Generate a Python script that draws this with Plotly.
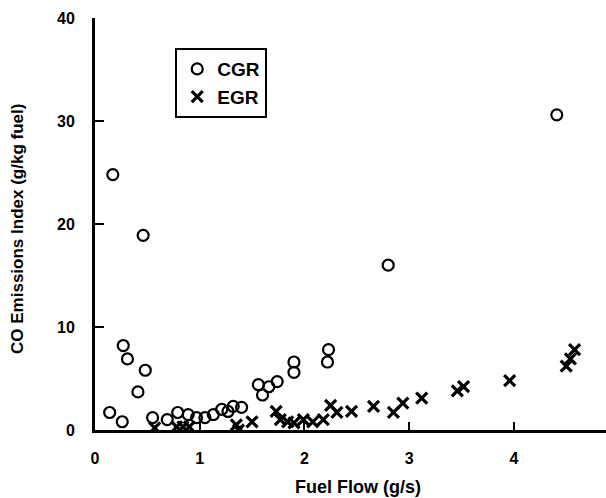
import plotly.graph_objects as go

cgr_x = [0.14, 0.17, 0.26, 0.27, 0.31, 0.41, 0.46, 0.48, 0.55, 0.69, 0.79, 0.89,
         0.97, 1.05, 1.13, 1.21, 1.27, 1.32, 1.40, 1.56, 1.60, 1.66, 1.74, 1.90,
         1.90, 2.23, 2.22, 2.80, 4.41]
cgr_y = [1.7, 24.8, 0.8, 8.2, 6.9, 3.7, 18.9, 5.8, 1.2, 1.0, 1.7, 1.5,
         1.2, 1.2, 1.5, 2.0, 1.8, 2.3, 2.2, 4.4, 3.4, 4.2, 4.7, 6.6,
         5.6, 7.8, 6.6, 16.0, 30.6]

egr_x = [0.57, 0.78, 0.84, 0.90, 1.35, 1.37, 1.50, 1.73, 1.77, 1.84, 1.90, 1.99,
         2.08, 2.18, 2.25, 2.31, 2.45, 2.66, 2.85, 2.94, 3.12, 3.46, 3.52, 3.96,
         4.50, 4.54, 4.58]
egr_y = [0.2, 0.3, 0.3, 0.3, 0.5, 0.0, 0.8, 1.8, 1.0, 0.8, 0.7, 1.0,
         0.8, 1.0, 2.4, 1.7, 1.8, 2.3, 1.7, 2.6, 3.1, 3.8, 4.2, 4.8,
         6.2, 6.9, 7.8]

x_ticks = [0, 1, 2, 3, 4]
y_ticks = [0, 10, 20, 30, 40]

FONT = "Liberation Sans, Arial, sans-serif"

fig = go.Figure()
fig.add_trace(go.Scatter(
    x=cgr_x, y=cgr_y, mode="markers", name="CGR",
    marker=dict(symbol="circle-open", size=11, color="black", line=dict(width=2.2, color="black")),
))
fig.add_trace(go.Scatter(
    x=egr_x, y=egr_y, mode="markers", name="EGR",
    marker=dict(symbol="x-thin-open", size=11, color="black", line=dict(width=3.2, color="black")),
))

fig.update_layout(
    width=606, height=498,
    margin=dict(l=95, r=0, t=18, b=68),
    paper_bgcolor="white", plot_bgcolor="white",
    font=dict(family=FONT, color="black"),
    showlegend=True,
    legend=dict(
        x=0.157, y=0.927, xanchor="left", yanchor="top",
        bordercolor="black", borderwidth=2, bgcolor="white",
        font=dict(family=FONT, size=19, color="black", weight="bold"),
        itemwidth=30,
    ),
    xaxis=dict(
        range=[0, 4.88], tickvals=x_ticks, ticktext=[str(v) for v in x_ticks],
        showgrid=False, zeroline=False, showline=True, linecolor="black", linewidth=3,
        ticks="inside", ticklen=8, tickwidth=2, tickcolor="black",
        tickfont=dict(family=FONT, size=16, color="black", weight="bold"),
        ticklabelstandoff=12,
    ),
    yaxis=dict(
        range=[0, 40], tickvals=y_ticks, ticktext=[str(v) for v in y_ticks],
        showgrid=False, zeroline=False, showline=True, linecolor="black", linewidth=3,
        ticks="inside", ticklen=9, tickwidth=2, tickcolor="black",
        tickfont=dict(family=FONT, size=16, color="black", weight="bold"),
        ticklabelstandoff=14,
    ),
    annotations=[
        dict(text="CO Emissions Index (g/kg fuel)", xref="paper", yref="paper",
             x=0, y=0.488, xshift=-77, xanchor="center", yanchor="middle",
             textangle=-90, showarrow=False,
             font=dict(family=FONT, size=17, color="black", weight="bold")),
        dict(text="Fuel Flow (g/s)", xref="paper", yref="paper",
             x=0.515, y=0, yshift=-57, xanchor="center", yanchor="middle",
             showarrow=False,
             font=dict(family=FONT, size=18, color="black", weight="bold")),
    ],
)

fig.write_html("out.html")
